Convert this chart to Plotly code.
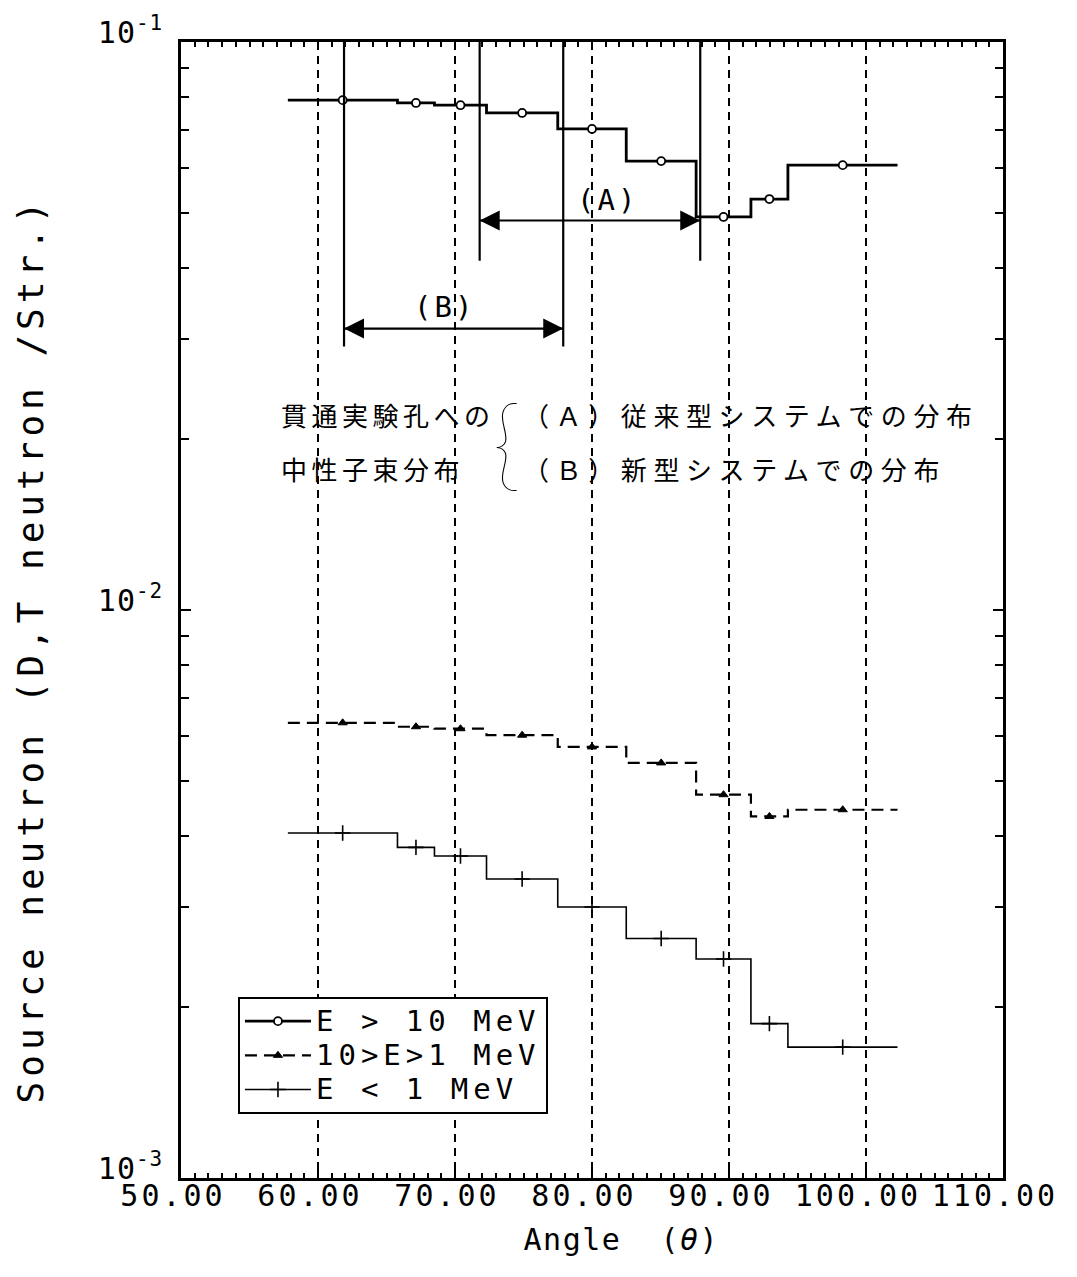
import plotly.graph_objects as go
import math

# ---------------- data ----------------
ANGLE_EDGES = [57.8, 65.8, 68.5, 72.3, 77.5, 82.5, 87.6, 91.6, 94.3, 102.3]   # bin edges (deg)
FLUX_GT10 = [0.0790, 0.0781, 0.0774, 0.0750, 0.0703, 0.0617, 0.0492, 0.0529, 0.0607]
FLUX_1TO10 = [0.00633, 0.00623, 0.00618, 0.00602, 0.00574, 0.00538, 0.00473, 0.00433, 0.00445]
FLUX_LT1 = [0.00405, 0.00382, 0.00369, 0.00336, 0.00300, 0.00264, 0.00243, 0.00187, 0.00170]
SERIES_NAMES = ["E &gt; 10 MeV", "10&gt;E&gt;1 MeV", "E &lt; 1 MeV"]

RANGE_A = [71.8, 87.9]        # (A) conventional system
RANGE_B = [61.9, 77.9]        # (B) new system
RANGE_A_BOTTOM = 0.0412
RANGE_B_BOTTOM = 0.0291
ARROW_A_LEVEL = 0.0485
ARROW_B_LEVEL = 0.0313
LABEL_A = ["(A)", 81.1, 0.0527]
LABEL_B = ["(B)", 69.2, 0.0342]

X_TICKS = [50, 60, 70, 80, 90, 100, 110]
Y_TICKS = [1e-3, 1e-2, 1e-1]
Y_TICK_TEXT = ["10<sup>-3</sup>", "10<sup>-2</sup>", "10<sup>-1</sup>"]

NOTE_LEFT = ["貫通実験孔への", "中性子束分布"]
NOTE_RIGHT = ["（Ａ）従来型システムでの分布", "（Ｂ）新型システムでの分布"]

MONO = "DejaVu Sans Mono"
CJK = "Noto Sans CJK JP"


def ls(text, px, size=None):
    st = "letter-spacing:%gpx" % px
    if size:
        st += ";font-size:%gpx" % size
    return '<span style="%s">%s</span>' % (st, text)


def ls_inner(text, px):
    # letter spacing between characters only (no trailing gap)
    return ls(text[:-1], px) + text[-1]


centers = [(a + b) / 2 for a, b in zip(ANGLE_EDGES[:-1], ANGLE_EDGES[1:])]

styles = [
    dict(vals=FLUX_GT10, line=dict(color="black", width=2.8),
         marker=dict(symbol="circle", size=8, color="white", line=dict(color="black", width=1.8))),
    dict(vals=FLUX_1TO10, line=dict(color="black", width=2.2, dash="12px,7px"),
         marker=dict(symbol="triangle-up", size=8, color="black", line=dict(color="black", width=1))),
    dict(vals=FLUX_LT1, line=dict(color="black", width=1.6),
         marker=dict(symbol="cross-thin-open", size=11, color="black", line=dict(color="black", width=1.6))),
]

fig = go.Figure()
for name, st in zip(SERIES_NAMES, styles):
    vals = st["vals"]
    fig.add_trace(go.Scatter(
        x=ANGLE_EDGES, y=vals + [vals[-1]], mode="lines",
        line=dict(shape="hv", **st["line"]), showlegend=False, hoverinfo="skip"))
    fig.add_trace(go.Scatter(
        x=centers, y=vals, mode="markers", marker=st["marker"],
        showlegend=False, hoverinfo="x+y"))
    fig.add_trace(go.Scatter(
        x=[None], y=[None], mode="lines+markers", line=st["line"], marker=st["marker"],
        name=ls(name, 5, 29)))

# boundary lines and double arrows of the two distributions
for rng, bottom, lvl in ((RANGE_A, RANGE_A_BOTTOM, ARROW_A_LEVEL),
                         (RANGE_B, RANGE_B_BOTTOM, ARROW_B_LEVEL)):
    fig.add_trace(go.Scatter(
        x=[rng[0], rng[0], None, rng[1], rng[1]],
        y=[Y_TICKS[-1], bottom, None, Y_TICKS[-1], bottom],
        mode="lines", line=dict(color="black", width=2.2),
        showlegend=False, hoverinfo="skip"))
    fig.add_trace(go.Scatter(
        x=rng, y=[lvl, lvl], mode="lines+markers",
        line=dict(color="black", width=2.2),
        marker=dict(symbol=["arrow-left", "arrow-right"], size=20, color="black",
                    line=dict(width=0)),
        showlegend=False, hoverinfo="skip"))

annotations = []
for txt, xv, yv in (LABEL_A, LABEL_B):
    annotations.append(dict(
        x=xv, y=math.log10(yv), xref="x", yref="y", text=ls(txt, 3),
        showarrow=False, font=dict(family=MONO, size=29, color="black")))

# Japanese notes
for i, (lt, rt) in enumerate(zip(NOTE_LEFT, NOTE_RIGHT)):
    yy = 0.6725 - i * 0.0475
    annotations.append(dict(
        x=0.119, y=yy, xref="paper", yref="paper", xanchor="left", yanchor="middle",
        text=ls_inner(lt, 4.5), showarrow=False, font=dict(family=CJK, size=26, color="black")))
    annotations.append(dict(
        x=0.4136, y=yy, xref="paper", yref="paper", xanchor="left", yanchor="middle",
        text=ls_inner(rt, 6.6), showarrow=False, font=dict(family=CJK, size=26, color="black")))
annotations.append(dict(
    x=0.3955, y=0.650, xref="paper", yref="paper", xanchor="center", yanchor="middle",
    text="{", showarrow=False, font=dict(family="Lato", size=100, color="black", weight=100)))

fig.update_layout(
    width=1069, height=1269,
    margin=dict(l=173, r=74, t=34, b=99, autoexpand=False),
    paper_bgcolor="white", plot_bgcolor="white",
    font=dict(family=MONO, color="black"),
    annotations=annotations,
    showlegend=True,
    legend=dict(
        x=0.0693, y=0.1593, xanchor="left", yanchor="top",
        bgcolor="white", bordercolor="black", borderwidth=2,
        font=dict(family=MONO, size=24, color="black"),
        itemwidth=66, tracegroupgap=0),
)

fig.update_xaxes(
    range=[50, 110], tickvals=X_TICKS,
    ticktext=[ls("%.2f" % v, 3) for v in X_TICKS],
    tickfont=dict(family=MONO, size=30, color="black"),
    ticks="inside", ticklen=8, tickwidth=2, tickcolor="black",
    minor=dict(dtick=1, ticks="inside", ticklen=5, tickwidth=1.5, tickcolor="black", showgrid=False),
    showline=True, linewidth=2.5, linecolor="black", mirror="allticks",
    showgrid=True, gridcolor="black", gridwidth=1.5, griddash="8px,6px",
    zeroline=False, ticklabelstandoff=-11, ticklabelshift=-8, automargin=False,
    title=dict(text=ls("\u00a0\u00a0\u00a0Angle\u00a0\u00a0(<i>θ</i>)", 1.5),
               font=dict(family=MONO, size=30, color="black"), standoff=18),
)

minor_y = [k * 10.0 ** e for e in (-3, -2) for k in range(2, 10)]
fig.update_yaxes(
    type="log", range=[-3, -1], tickvals=Y_TICKS, ticktext=[ls(t, 1) for t in Y_TICK_TEXT],
    tickfont=dict(family=MONO, size=30, color="black"),
    ticks="inside", ticklen=10, tickwidth=2, tickcolor="black",
    minor=dict(tickmode="array", tickvals=minor_y, ticks="inside", ticklen=8,
               tickwidth=2, tickcolor="black", showgrid=False),
    showline=True, linewidth=2.5, linecolor="black", mirror="allticks",
    showgrid=False, zeroline=False, ticklabelstandoff=9, ticklabelshift=-10,
    automargin=False,
    title=dict(text=ls("Source neutron (D,T neutron /Str.)\u00a0\u00a0\u00a0", 5),
               font=dict(family=MONO, size=36, color="black"), standoff=44),
)

fig.write_html("out.html")
